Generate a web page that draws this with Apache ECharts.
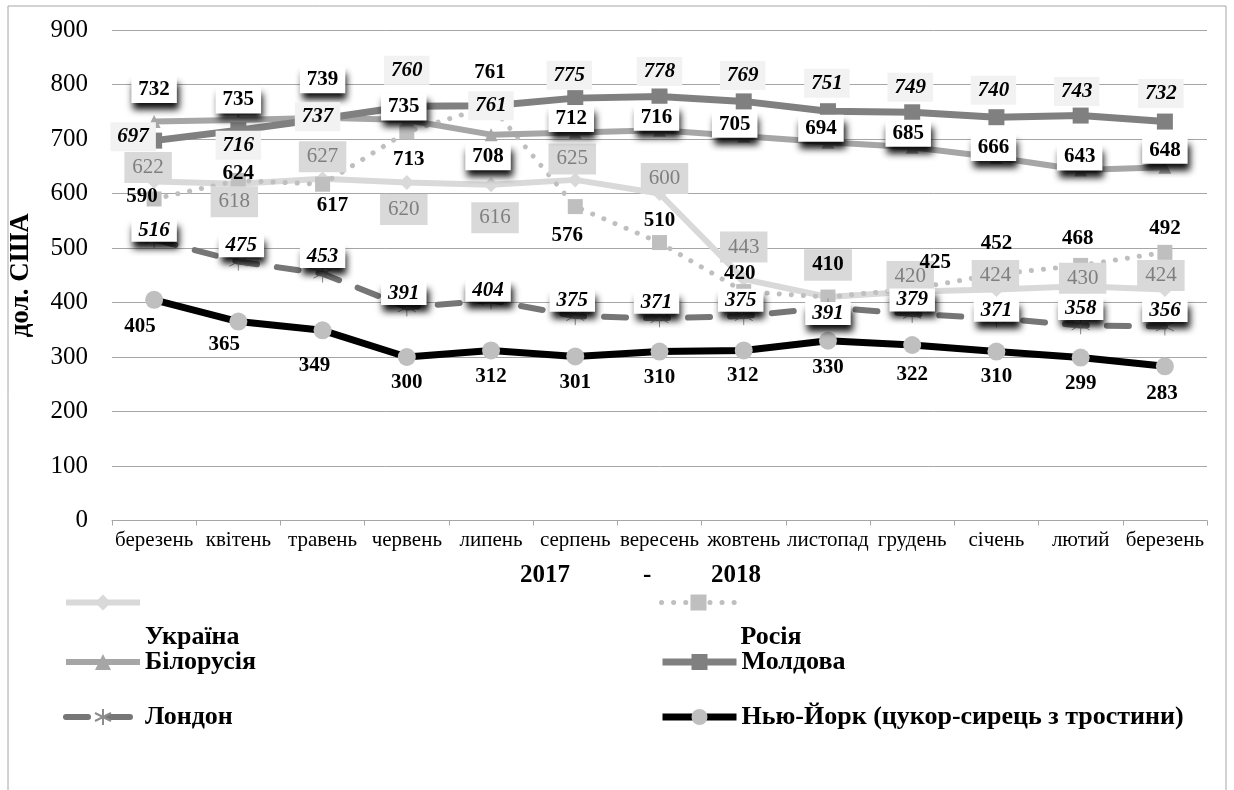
<!DOCTYPE html>
<html>
<head>
<meta charset="utf-8">
<script src="https://cdn.jsdelivr.net/npm/echarts@6/dist/echarts.min.js"></script>
<style>html,body{margin:0;padding:0;background:#fff}#c{width:1234px;height:790px}</style>
</head>
<body>
<div id="c"></div>
<script>
const categories = ['березень','квітень','травень','червень','липень','серпень','вересень','жовтень','листопад','грудень','січень','лютий','березень'];
const seriesNames = ['Україна','Росія','Білорусія','Молдова','Лондон','Нью-Йорк (цукор-сирець з тростини)'];
const ukraine = [622, 618, 627, 620, 616, 625, 600, 443, 410, 420, 424, 430, 424];
const russia  = [590, 624, 617, 713, 761, 576, 510, 420, 410, 425, 452, 468, 492];
const belarus = [732, 735, 739, 735, 708, 712, 716, 705, 694, 685, 666, 643, 648];
const moldova = [697, 716, 737, 760, 761, 775, 778, 769, 751, 749, 740, 743, 732];
const london  = [516, 475, 453, 391, 404, 375, 371, 375, 391, 379, 371, 358, 356];
const newYork = [405, 365, 349, 300, 312, 301, 310, 312, 330, 322, 310, 299, 283];
const yTicks = [0, 100, 200, 300, 400, 500, 600, 700, 800, 900];

// label placement offsets (pixels), kept separate from values
const ukraineOff = [[-6,-14],[-4,18],[0,-22],[-3,27],[4,33],[-3,-21],[5,-15],[0,-32],[0,-32],[-2,-15],[-1,-14],[2,-8],[-4,-14]];
const russiaOff  = [[-12,-2],[0,-7],[10,21],[2,28],[-1,-33],[-8,29],[0,-22],[-4,-18],[0,-32],[23,-26],[0,-31],[-3,-27],[0,-24]];
const belarusOff = [[0,-32],[0,-20],[0,-38],[-3,-13],[-3,22],[-4,-14],[-3,-13],[-9,-12],[-7,-14],[-4,-14],[-3,-10],[-1,-13],[0,-17]];
const moldovaOff = [[-21,-4],[0,15],[-5,-2],[0,-36],[0,0],[-6,-23],[0,-25],[-1,-26],[-1,-28],[-2,-25],[-3,-27],[-4,-24],[-4,-28]];
const londonOff  = [[0,-9],[3,-16],[0,-17],[-3,-14],[-3,-10],[-3,-16],[-3,-16],[-3,-16],[0,6],[0,-14],[0,-8],[0,-17],[0,-16]];
const nyOff      = [[-14,27],[-14,23],[-8,35],[0,26],[0,26],[0,26],[0,26],[-1,25],[0,27],[0,30],[0,25],[0,26],[-3,27]];

const FONT = "'Liberation Serif','Times New Roman',serif";

function mk(values, offs, extra) {
  return values.map((v, i) => {
    const it = { value: v, label: { offset: offs[i] } };
    if (extra && extra[i]) Object.assign(it.label, extra[i]);
    return it;
  });
}

const baseLabel = {
  show: true, position: 'inside', align: 'center', verticalAlign: 'middle',
  fontFamily: FONT, fontSize: 21, color: '#000'
};
const shadowBox = { shadowColor: 'rgba(0,0,0,0.95)', shadowBlur: 7, shadowOffsetX: 2, shadowOffsetY: 7 };

const starPath = 'path://M10,0 L10,20 M1,5 L19,15 M1,15 L19,5';
const russiaExtra = {}; russiaExtra[8] = { backgroundColor: '#d9d9d9', padding: [5, 8] };

const defs = [
  { values: ukraine, offs: ukraineOff, symbol: 'diamond', size: 15,
    line: { color: '#d9d9d9', width: 6 }, item: { color: '#d9d9d9' },
    label: { color: '#7f7f7f', backgroundColor: '#d9d9d9', padding: [5, 8] } },
  { values: russia, offs: russiaOff, extra: russiaExtra, symbol: 'rect', size: 15,
    line: { color: '#bfbfbf', width: 5, type: [0.1, 12], cap: 'round' }, item: { color: '#bfbfbf' },
    label: { fontWeight: 'bold' } },
  { values: belarus, offs: belarusOff, symbol: 'triangle', size: 13,
    line: { color: '#a6a6a6', width: 6 }, item: { color: '#a6a6a6' },
    label: Object.assign({ fontWeight: 'bold', backgroundColor: '#fff', padding: [3, 7] }, shadowBox) },
  { values: moldova, offs: moldovaOff, symbol: 'rect', size: 16,
    line: { color: '#808080', width: 7 }, item: { color: '#808080' },
    label: { fontWeight: 'bold', fontStyle: 'italic', backgroundColor: '#f2f2f2', padding: [4, 7] } },
  { values: london, offs: londonOff, symbol: starPath, size: 18,
    line: { color: '#767676', width: 6, type: [22, 20], cap: 'round' }, item: { color: 'transparent', borderColor: '#8c8c8c', borderWidth: 1 },
    label: Object.assign({ fontWeight: 'bold', fontStyle: 'italic', backgroundColor: '#fff', padding: [1, 7] }, shadowBox) },
  { values: newYork, offs: nyOff, symbol: 'circle', size: 18,
    line: { color: '#000', width: 7 }, item: { color: '#bfbfbf' },
    label: { fontWeight: 'bold' } }
];

const series = [];
// line series (marks)
defs.forEach((d, i) => {
  series.push({
    name: seriesNames[i], type: 'line', data: d.values.slice(),
    symbol: d.symbol, symbolSize: d.size, z: 2 + i,
    lineStyle: d.line, itemStyle: d.item, label: { show: false }
  });
});
// label layers drawn above all lines (as in the original chart)
defs.forEach((d, i) => {
  series.push({
    name: '_labels_' + i, type: 'line', data: mk(d.values, d.offs, d.extra),
    symbol: 'circle', symbolSize: 1, z: 20 + i, silent: true,
    lineStyle: { width: 0, opacity: 0 }, itemStyle: { color: 'transparent', borderWidth: 0 },
    label: Object.assign({}, baseLabel, d.label)
  });
});

const legendText = { fontFamily: FONT, fontSize: 26, fontWeight: 'bold', color: '#000', lineHeight: 30 };
const legendTextLow = Object.assign({}, legendText, { lineHeight: 23 });
function lg(idx, left, top, low) {
  return {
    data: [seriesNames[idx]], left: left, top: top, orient: 'horizontal', padding: 0,
    itemWidth: 74, itemHeight: 20, selectedMode: false,
    lineStyle: Object.assign({}, defs[idx].line),
    formatter: low ? '\n\n\n{name}' : '{name}',
    textStyle: low ? legendTextLow : legendText
  };
}

const chart = echarts.init(document.getElementById('c'));
chart.setOption({
  animation: false,
  backgroundColor: '#fff',
  grid: { left: 107, right: 27, top: 30, bottom: 269.5, containLabel: false },
  xAxis: {
    type: 'category', data: categories, boundaryGap: true,
    axisLine: { lineStyle: { color: '#a6a6a6', width: 1 } },
    axisTick: { show: true, length: 5, lineStyle: { color: '#a6a6a6' } },
    axisLabel: { fontFamily: FONT, fontSize: 21, color: '#000', margin: 9, interval: 0 }
  },
  yAxis: {
    type: 'value', min: yTicks[0], max: yTicks[yTicks.length - 1], interval: 100,
    axisLine: { show: false }, axisTick: { show: false },
    splitLine: { lineStyle: { color: '#a6a6a6', width: 1 } },
    axisLabel: { fontFamily: FONT, fontSize: 25, color: '#000', margin: 24 },
    name: 'дол. США', nameLocation: 'middle', nameRotate: 90, nameGap: 77,
    nameTextStyle: { fontFamily: FONT, fontSize: 27, fontWeight: 'bold', color: '#000' }
  },
  legend: [
    lg(0, 63, 555, true),
    lg(1, 659, 555, true),
    lg(2, 63, 647, false),
    lg(3, 659, 647, false),
    lg(4, 63, 702, false),
    lg(5, 659, 702, false)
  ],
  graphic: [
    { type: 'rect', shape: { x: 8, y: 6, width: 1218, height: 800 }, style: { fill: 'none', stroke: '#a6a6a6', lineWidth: 1 }, silent: true, z: -10 },
    { type: 'text', left: 520, top: 563, style: { text: '2017', font: "bold 25px 'Liberation Serif', serif", fill: '#000' } },
    { type: 'text', left: 643, top: 563, style: { text: '-', font: "bold 25px 'Liberation Serif', serif", fill: '#000' } },
    { type: 'text', left: 711, top: 563, style: { text: '2018', font: "bold 25px 'Liberation Serif', serif", fill: '#000' } }
  ],
  series: series
});
</script>
</body>
</html>
